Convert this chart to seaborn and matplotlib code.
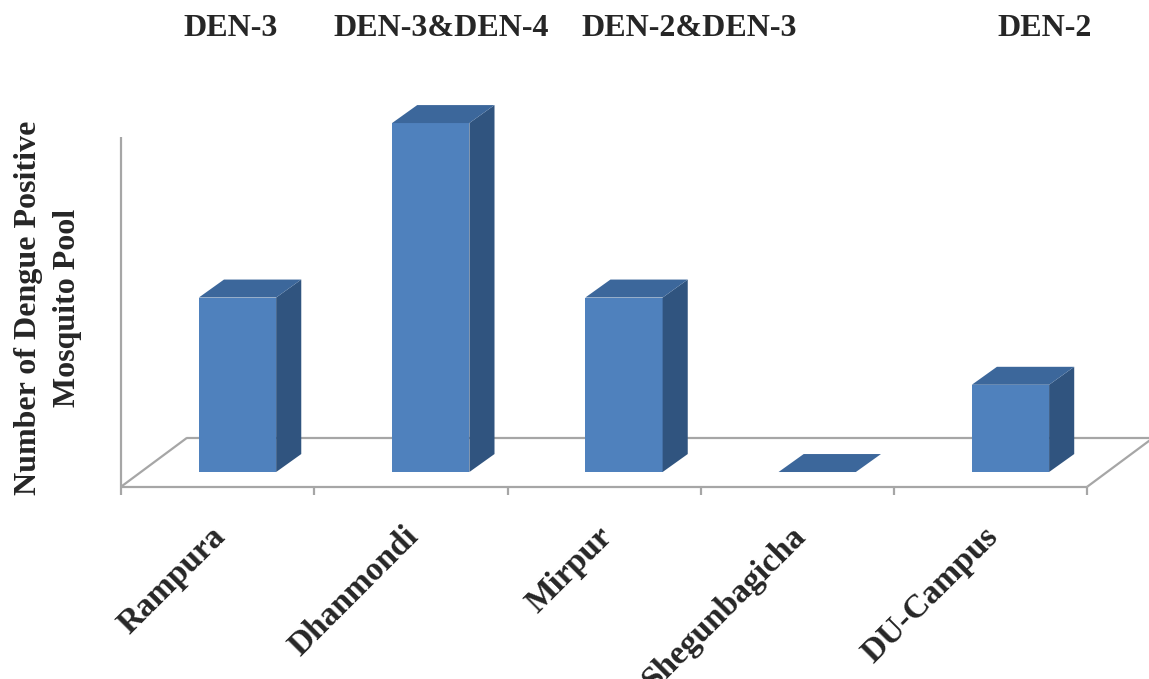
import matplotlib
matplotlib.use("Agg")
import matplotlib.pyplot as plt
from matplotlib.patches import Polygon
import pandas as pd
import seaborn as sns

# ---- data -------------------------------------------------------------
locations = ["Rampura", "Dhanmondi", "Mirpur", "Shegunbagicha", "DU-Campus"]
positive_pools = [2, 4, 2, 0, 1]
serotypes = ["DEN-3", "DEN-3&DEN-4", "DEN-2&DEN-3", "", "DEN-2"]

# ---- style -------------------------------------------------------------
sns.set_style("white")
plt.rcParams["font.family"] = ["Liberation Serif", "DejaVu Serif"]
plt.rcParams["font.weight"] = "bold"

FRONT = "#4F81BD"
TOP = "#3C679B"
SIDE = "#30547F"
GRID = "#A6A6A6"
LABEL_SIZE = 23

# pseudo-3D geometry (in data units)
FLOOR_DX, FLOOR_DY = 0.342, 0.562      # full depth of the floor
FLOOR_SHIFT = 0.30                     # bars stand 30% into the floor
BAR_DX, BAR_DY = 0.130, 0.206          # depth of each bar
BAR_WIDTH = 0.40
AXIS_TOP = 3.84
TICK_LEN = 0.09

df = pd.DataFrame({"location": locations, "pools": positive_pools})

fig = plt.figure(figsize=(11.49, 6.79), dpi=100)
ax = fig.add_axes([0.0957, 0.2636, 0.9043, 0.5891])

sns.barplot(data=df, x="location", y="pools", color=FRONT, saturation=1,
            width=BAR_WIDTH, ax=ax, zorder=3, linewidth=0)

# floor outline
y_front = -FLOOR_SHIFT * FLOOR_DY
y_back = y_front + FLOOR_DY
x_fl = -0.5 - FLOOR_SHIFT * FLOOR_DX
x_fr = x_fl + len(locations)
x_bl, x_br = x_fl + FLOOR_DX, x_fr + FLOOR_DX
line_kw = dict(color=GRID, lw=1.6, clip_on=False, zorder=1, solid_capstyle="butt")
ax.plot([x_fl, x_fr], [y_front, y_front], **line_kw)
ax.plot([x_bl, x_br], [y_back, y_back], **line_kw)
ax.plot([x_fl, x_bl], [y_front, y_back], **line_kw)
ax.plot([x_fr, x_br], [y_front, y_back], **line_kw)
ax.plot([x_fl, x_fl], [y_front - TICK_LEN, AXIS_TOP], **line_kw)
for k in range(1, len(locations) + 1):
    ax.plot([x_fl + k, x_fl + k], [y_front - TICK_LEN, y_front], **line_kw)

# top and side faces derived from each seaborn bar
for p in list(ax.patches):
    x0, w, h = p.get_x(), p.get_width(), p.get_height()
    top = [(x0, h), (x0 + w, h), (x0 + w + BAR_DX, h + BAR_DY), (x0 + BAR_DX, h + BAR_DY)]
    side = [(x0 + w, 0), (x0 + w + BAR_DX, BAR_DY),
            (x0 + w + BAR_DX, h + BAR_DY), (x0 + w, h)]
    ax.add_patch(Polygon(side, closed=True, facecolor=SIDE, edgecolor="none", zorder=3))
    ax.add_patch(Polygon(top, closed=True, facecolor=TOP, edgecolor="none", zorder=3))

ax.set_xlim(-0.66, 4.717)
ax.set_ylim(-0.321, 4.264)
for s in ax.spines.values():
    s.set_visible(False)
ax.set_yticks([])
ax.set_xlabel("")
ax.set_ylabel("")

# category labels, anchored just left of the front edge centre of each slot
centers = [x_fl + 0.46 + i for i in range(len(locations))]
ax.set_xticks(centers, locations)
ax.tick_params(axis="x", length=0, pad=15)
for lbl in ax.get_xticklabels():
    lbl.set_rotation(45)
    lbl.set_ha("right")
    lbl.set_va("top")
    lbl.set_rotation_mode("anchor")
    lbl.set_fontsize(LABEL_SIZE + 1)
    lbl.set_fontweight("bold")

fig.text(0.0415, 0.546, "Number of Dengue Positive\nMosquito Pool",
         rotation=90, ha="center", va="center", multialignment="center",
         fontsize=LABEL_SIZE, fontweight="bold", linespacing=1.45)

# serotype labels along the top
sero_x = [0.201, 0.384, 0.600, None, 0.909]
for txt, xf in zip(serotypes, sero_x):
    if txt:
        fig.text(xf, 0.958, txt, ha="center", va="center",
                 fontsize=LABEL_SIZE, fontweight="bold")

fig.savefig("out.png", dpi=100, facecolor="white")
